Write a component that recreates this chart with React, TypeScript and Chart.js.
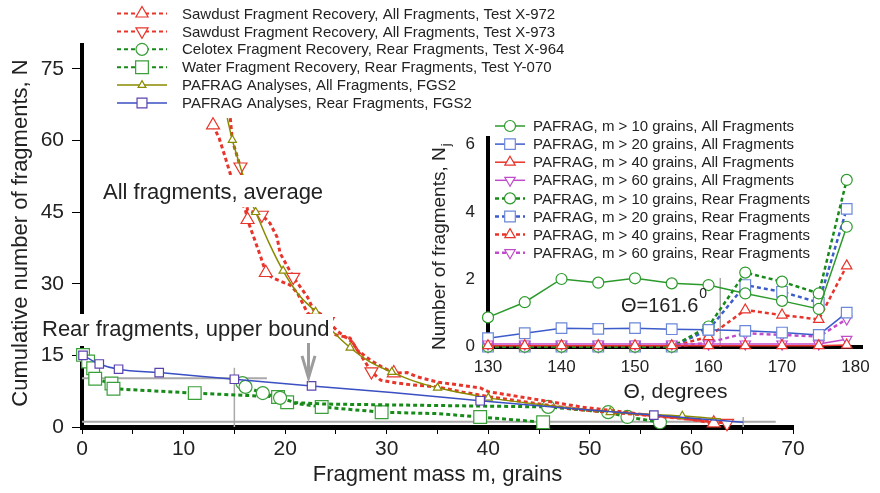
import React, { useEffect, useRef } from 'react';
import { Chart, registerables } from 'chart.js';
Chart.register(...registerables);

// ---------------- Main chart data: fragment mass m (grains) vs cumulative N ----------------
// each point: [mass, cumulativeN, hasMarker]
const sawdustX972: number[][] = [
  [12.9, 63.2, 1], [13.5, 60.5, 0], [14.1, 56.5, 0], [14.6, 53.0, 0], [16.1, 45.3, 0], [16.3, 43.4, 1],
  [17.1, 38.6, 0], [17.6, 35.6, 0], [18.1, 32.3, 1], [18.8, 31.2, 0], [20.5, 29.7, 0], [21.2, 28.1, 0],
  [22.2, 23.9, 0], [24.0, 21.0, 0], [25.0, 19.3, 0], [26.4, 18.6, 0], [27.1, 16.1, 0], [28.4, 14.0, 0],
  [29.5, 12.6, 0], [30.7, 11.3, 1], [32.0, 11.4, 0], [33.0, 10.5, 0], [35.0, 9.4, 0], [39.2, 8.2, 0],
  [40.0, 7.4, 0], [43.2, 6.3, 0], [45.8, 5.4, 0], [49.1, 4.2, 0], [52.3, 3.4, 0], [55.7, 2.5, 0],
  [59.0, 1.9, 0], [62.2, 0.8, 1],
];
const sawdustX973: number[][] = [
  [14.6, 64.7, 0], [14.8, 60.0, 0], [15.3, 56.5, 0], [15.6, 54.5, 1], [16.0, 49.5, 0], [16.3, 45.4, 0],
  [17.7, 44.4, 1], [18.5, 42.7, 0], [19.2, 39.8, 0], [19.5, 36.4, 0], [20.8, 31.4, 1], [21.5, 29.3, 0],
  [22.2, 27.2, 0], [22.8, 24.5, 0], [23.7, 23.4, 0], [24.2, 22.1, 1], [25.2, 20.0, 0], [26.6, 17.8, 0],
  [27.6, 14.5, 0], [28.5, 11.6, 1], [29.4, 9.8, 0], [31.0, 9.2, 0], [32.6, 8.8, 0], [35.0, 8.4, 0],
  [37.5, 7.3, 0], [40.2, 6.3, 0], [45.8, 4.6, 0], [49.1, 3.6, 0], [52.5, 3.0, 0], [56.0, 2.4, 0],
  [60.0, 1.6, 0], [63.5, 0.8, 1],
];
const celotexX964: number[][] = [
  [15.8, 9.2, 1], [16.1, 8.4, 1], [17.8, 7.1, 1], [19.5, 6.1, 1], [21.0, 5.1, 0], [24.0, 4.8, 0],
  [35.0, 4.5, 0], [45.9, 4.2, 1], [51.8, 3.1, 1], [53.7, 2.1, 1], [56.9, 1.0, 1],
];
const waterY070: number[][] = [
  [0.1, 15.1, 1], [0.6, 13.7, 1], [1.1, 12.3, 1], [1.3, 10.1, 1], [2.9, 9.1, 1], [3.1, 8.0, 1],
  [11.1, 7.1, 1], [19.3, 6.3, 1], [20.2, 5.2, 1], [23.6, 4.2, 1], [29.5, 3.1, 1], [35.0, 2.8, 0],
  [39.2, 2.1, 1], [45.4, 1.0, 1],
];
const pafragAll: number[][] = [
  [14.3, 64.7, 0], [14.8, 60.1, 1], [15.3, 56.5, 0], [15.8, 53.0, 0], [16.4, 48.5, 0], [17.1, 45.0, 1],
  [18.4, 38.6, 0], [19.8, 32.7, 1], [21.3, 27.8, 0], [23.0, 24.1, 1], [24.6, 20.2, 0], [26.4, 16.6, 1],
  [28.3, 13.7, 0], [30.5, 11.5, 1], [32.7, 9.6, 0], [35.0, 8.2, 1], [37.5, 7.1, 0], [40.0, 6.1, 1],
  [46.0, 4.5, 0], [52.0, 3.1, 1], [59.1, 2.3, 1], [62.9, 1.7, 0],
];
const pafragRear: number[][] = [
  [0.1, 15.0, 1], [1.7, 13.2, 1], [3.6, 12.1, 1], [7.6, 11.4, 1], [15.0, 10.0, 1], [22.6, 8.6, 1],
  [30.5, 7.2, 0], [39.2, 5.5, 1], [47.5, 4.0, 0], [56.3, 2.5, 1], [65.1, 1.0, 0],
];
const mainXTicks = [0, 5, 10, 15, 20, 25, 30, 35, 40, 45, 50, 55, 60, 65, 70];
const mainYTicks = [0, 15, 30, 45, 60, 75];
// grey guide lines [x1, y1, x2, y2]
const guideLines: number[][] = [
  [0, 10.2, 18.2, 10.2], [15, 0, 15, 12.4], [0, 1.1, 68.3, 1.1], [65.1, 0, 65.1, 2.1],
];
const upperBoundArrow = [22.3, 17.6, 10.3]; // x, yFrom, yTo

// ---------------- Inset data: scattering angle vs N_j ----------------
const thetas = [130, 135, 140, 145, 150, 155, 160, 165, 170, 175, 178.8];
const allM10 = [0.87, 1.32, 2.01, 1.9, 2.03, 1.88, 1.83, 1.58, 1.36, 1.12, 3.56];
const allM20 = [0.25, 0.4, 0.55, 0.53, 0.55, 0.52, 0.5, 0.47, 0.42, 0.35, 1.01];
const allM40 = [0.03, 0.03, 0.03, 0.03, 0.03, 0.03, 0.03, 0.03, 0.03, 0.03, 0.05];
const allM60 = [0.08, 0.08, 0.08, 0.08, 0.08, 0.08, 0.08, 0.08, 0.08, 0.08, 0.22];
const rearM10 = [0, 0, 0, 0, 0, 0, 0.6, 2.2, 1.93, 1.58, 4.95];
const rearM20 = [0, 0, 0, 0, 0, 0, 0.5, 1.83, 1.63, 1.31, 4.09];
const rearM40 = [0, 0, 0, 0, 0, 0, 0.3, 1.09, 0.94, 0.81, 2.4];
const rearM60 = [0, 0, 0, 0, 0, 0, 0.12, 0.4, 0.35, 0.3, 0.82];
const insetXTicks = [130, 140, 150, 160, 170, 180];
const insetYTicks = [0, 2, 4, 6];
const thetaCritical = [161.6, 0, 2.04];

// ---------------- styles ----------------
const FONT = '"Liberation Sans", Arial, Helvetica, sans-serif';
const TXT = '#222222';
const RED = '#e8352b';
const GREEN = '#178a1a';
const GREEN_M = '#3a9f3a';
const OLIVE = '#8a8a00';
const BLUE = '#3a4fc2';
const PURPLE = '#5b42ae';
const IG = '#2b9a2b';
const IB = '#3d5ccc';
const IBM = '#6b88d9';
const IR = '#e8332a';
const IM = '#c04ccb';

function pts(a: number[][]) { return a.map(p => ({ x: p[0], y: p[1] })); }
function radii(a: number[][], r: number) { return a.map(p => (p[2] ? r : 0)); }
function xy(ys: number[]) { return ys.map((v, i) => ({ x: thetas[i], y: v })); }

function drawMarker(ctx: CanvasRenderingContext2D, style: string, x: number, y: number, r: number, rot: number, stroke: string, lw = 1.2) {
  ctx.save();
  ctx.beginPath();
  if (style === 'circle') ctx.arc(x, y, r, 0, Math.PI * 2);
  else if (style === 'rect') { const s = r * Math.SQRT1_2; ctx.rect(x - s, y - s, 2 * s, 2 * s); }
  else {
    let a = (rot * Math.PI) / 180;
    ctx.moveTo(x + Math.sin(a) * r, y - Math.cos(a) * r);
    a += (2 * Math.PI) / 3;
    ctx.lineTo(x + Math.sin(a) * r, y - Math.cos(a) * r);
    a += (2 * Math.PI) / 3;
    ctx.lineTo(x + Math.sin(a) * r, y - Math.cos(a) * r);
    ctx.closePath();
  }
  ctx.fillStyle = '#ffffff';
  ctx.fill();
  ctx.setLineDash([]);
  ctx.lineWidth = lw;
  ctx.strokeStyle = stroke;
  ctx.stroke();
  ctx.restore();
}

type LegendItem = { label: string; color: string; mcolor: string; dash: number[]; width: number; style: string; r: number; rot: number };

function drawLegend(ctx: CanvasRenderingContext2D, items: LegendItem[], x0: number, x1: number, textX: number, y0: number, dy: number, size: number) {
  items.forEach((it, i) => {
    const y = y0 + i * dy;
    ctx.save();
    ctx.beginPath();
    ctx.setLineDash(it.dash);
    ctx.lineWidth = it.width;
    ctx.strokeStyle = it.color;
    ctx.moveTo(x0, y);
    ctx.lineTo(x1, y);
    ctx.stroke();
    ctx.restore();
    drawMarker(ctx, it.style, (x0 + x1) / 2, y, it.r, it.rot, it.mcolor);
    ctx.save();
    ctx.font = `${size}px ${FONT}`;
    ctx.fillStyle = TXT;
    ctx.textAlign = 'left';
    ctx.textBaseline = 'middle';
    ctx.fillText(it.label, textX, y + 1);
    ctx.restore();
  });
}

const mainLegend: LegendItem[] = [
  { label: 'Sawdust Fragment Recovery, All Fragments, Test X-972', color: RED, mcolor: RED, dash: [4, 3], width: 2, style: 'triangle', r: 7, rot: 0 },
  { label: 'Sawdust Fragment Recovery, All Fragments, Test X-973', color: RED, mcolor: RED, dash: [4, 3], width: 2, style: 'triangle', r: 7, rot: 180 },
  { label: 'Celotex Fragment Recovery, Rear Fragments, Test X-964', color: GREEN, mcolor: GREEN_M, dash: [4, 3], width: 2, style: 'circle', r: 6, rot: 0 },
  { label: 'Water Fragment Recovery, Rear Fragments, Test Y-070', color: GREEN, mcolor: GREEN_M, dash: [4, 3], width: 2, style: 'rect', r: 9, rot: 0 },
  { label: 'PAFRAG Analyses, All Fragments, FGS2', color: OLIVE, mcolor: OLIVE, dash: [], width: 1.5, style: 'triangle', r: 4.5, rot: 0 },
  { label: 'PAFRAG Analyses, Rear Fragments, FGS2', color: BLUE, mcolor: PURPLE, dash: [], width: 1.5, style: 'rect', r: 7, rot: 0 },
];

const insetLegend: LegendItem[] = [
  { label: 'PAFRAG, m > 10 grains, All Fragments', color: IG, mcolor: IG, dash: [], width: 1.5, style: 'circle', r: 5.5, rot: 0 },
  { label: 'PAFRAG, m > 20 grains, All Fragments', color: IB, mcolor: IBM, dash: [], width: 1.5, style: 'rect', r: 7.5, rot: 0 },
  { label: 'PAFRAG, m > 40 grains, All Fragments', color: IR, mcolor: IR, dash: [], width: 1.5, style: 'triangle', r: 6, rot: 0 },
  { label: 'PAFRAG, m > 60 grains, All Fragments', color: IM, mcolor: IM, dash: [], width: 1.5, style: 'triangle', r: 6, rot: 180 },
  { label: 'PAFRAG, m > 10 grains, Rear Fragments', color: GREEN, mcolor: IG, dash: [4, 3], width: 2.5, style: 'circle', r: 5.5, rot: 0 },
  { label: 'PAFRAG, m > 20 grains, Rear Fragments', color: IB, mcolor: IBM, dash: [4, 3], width: 2.5, style: 'rect', r: 7.5, rot: 0 },
  { label: 'PAFRAG, m > 40 grains, Rear Fragments', color: IR, mcolor: IR, dash: [4, 3], width: 2.5, style: 'triangle', r: 6, rot: 0 },
  { label: 'PAFRAG, m > 60 grains, Rear Fragments', color: IM, mcolor: IM, dash: [4, 3], width: 2.5, style: 'triangle', r: 6, rot: 180 },
];

function textBox(ctx: CanvasRenderingContext2D, s: string, x: number, baseline: number, size: number, box: number[]) {
  ctx.save();
  ctx.fillStyle = '#ffffff';
  ctx.fillRect(box[0], box[1], box[2], box[3]);
  ctx.font = `${size}px ${FONT}`;
  ctx.fillStyle = TXT;
  ctx.textAlign = 'left';
  ctx.textBaseline = 'alphabetic';
  ctx.fillText(s, x, baseline);
  ctx.restore();
}

const mainDecor = {
  id: 'mainDecor',
  beforeDatasetsDraw(chart: any) {
    const { ctx, scales } = chart;
    const X = scales.x, Y = scales.y;
    ctx.save();
    ctx.strokeStyle = '#a9a9a9';
    guideLines.forEach((g, i) => {
      ctx.lineWidth = i === 1 || i === 3 ? 1.5 : 2;
      ctx.beginPath();
      ctx.moveTo(X.getPixelForValue(g[0]), Y.getPixelForValue(g[1]));
      ctx.lineTo(X.getPixelForValue(g[2]), Y.getPixelForValue(g[3]));
      ctx.stroke();
    });
    ctx.restore();
  },
  afterDatasetsDraw(chart: any) {
    const { ctx, scales } = chart;
    const X = scales.x, Y = scales.y;
    textBox(ctx, 'All fragments, average', 103, 199, 22, [100, 175, 226, 32]);
    textBox(ctx, 'Rear fragments, upper bound', 42, 336, 22, [38, 314, 295, 32]);
    // arrow
    const ax = X.getPixelForValue(upperBoundArrow[0]);
    const ay1 = Y.getPixelForValue(upperBoundArrow[1]);
    const ay2 = Y.getPixelForValue(upperBoundArrow[2]);
    ctx.save();
    ctx.strokeStyle = '#9c9c9c';
    ctx.lineWidth = 3;
    ctx.beginPath();
    ctx.moveTo(ax, ay1);
    ctx.lineTo(ax, ay2 - 1);
    ctx.moveTo(ax - 6.5, ay2 - 22);
    ctx.lineTo(ax, ay2);
    ctx.lineTo(ax + 6.5, ay2 - 22);
    ctx.stroke();
    ctx.restore();
  },
  afterDraw(chart: any) {
    const { ctx, chartArea } = chart;
    ctx.save();
    ctx.font = `22px ${FONT}`;
    ctx.fillStyle = TXT;
    ctx.textAlign = 'center';
    ctx.textBaseline = 'alphabetic';
    ctx.fillText('Fragment mass m, grains', (chartArea.left + chartArea.right) / 2, 481);
    ctx.translate(27, (chartArea.top + chartArea.bottom) / 2 - 3);
    ctx.rotate(-Math.PI / 2);
    ctx.fillText('Cumulative number of fragments, N', 0, 0);
    ctx.restore();
    drawLegend(ctx, mainLegend, 117, 167, 182, 13.5, 17.9, 15);
  },
};

const insetDecor = {
  id: 'insetDecor',
  beforeDatasetsDraw(chart: any) {
    const { ctx, scales } = chart;
    const X = scales.x, Y = scales.y;
    ctx.save();
    ctx.strokeStyle = '#a9a9a9';
    ctx.lineWidth = 1.5;
    ctx.beginPath();
    ctx.moveTo(X.getPixelForValue(thetaCritical[0]), Y.getPixelForValue(thetaCritical[1]));
    ctx.lineTo(X.getPixelForValue(thetaCritical[0]), Y.getPixelForValue(thetaCritical[2]));
    ctx.stroke();
    ctx.restore();
  },
  afterDraw(chart: any) {
    const { ctx, chartArea } = chart;
    ctx.save();
    ctx.fillStyle = TXT;
    ctx.textBaseline = 'alphabetic';
    // Theta label
    ctx.font = `20px ${FONT}`;
    ctx.textAlign = 'left';
    const lab = '\u0398=161.6';
    ctx.fillText(lab, 621, 312);
    const w = ctx.measureText(lab).width;
    ctx.font = `14px ${FONT}`;
    ctx.fillText('0', 621 + w + 1, 298);
    // x title
    ctx.font = `21px ${FONT}`;
    ctx.textAlign = 'center';
    ctx.fillText('\u0398, degrees', (chartArea.left + chartArea.right) / 2, 398);
    // y title with subscript
    ctx.translate(445, 350);
    ctx.rotate(-Math.PI / 2);
    ctx.font = `19px ${FONT}`;
    ctx.textAlign = 'left';
    const t = 'Number of fragments, N';
    ctx.fillText(t, 0, 0);
    const tw = ctx.measureText(t).width;
    ctx.font = `13px ${FONT}`;
    ctx.fillText('j', tw + 1, 5);
    ctx.restore();
    drawLegend(ctx, insetLegend, 495, 525, 533, 126, 18.1, 15);
  },
};

function mainDataset(a: number[][], color: string, mcolor: string, style: string, r: number, rot: number, dashed: boolean, smooth: boolean) {
  return {
    data: pts(a),
    borderColor: color,
    borderWidth: dashed ? 3 : 1.5,
    borderDash: dashed ? [4, 3] : [],
    pointStyle: style,
    pointRadius: radii(a, r),
    pointRotation: rot,
    pointBorderColor: mcolor,
    pointBackgroundColor: '#ffffff',
    pointBorderWidth: 1.2,
    cubicInterpolationMode: smooth ? 'monotone' : 'default',
    tension: 0,
    fill: false,
    clip: false as any,
  };
}

function insetDataset(ys: number[], color: string, mcolor: string, style: string, r: number, rot: number, dashed: boolean) {
  return {
    data: xy(ys),
    borderColor: color,
    borderWidth: dashed ? 2.5 : 1.5,
    borderDash: dashed ? [4, 3] : [],
    pointStyle: style,
    pointRadius: r,
    pointRotation: rot,
    pointBorderColor: mcolor,
    pointBackgroundColor: '#ffffff',
    pointBorderWidth: 1.2,
    tension: 0,
    fill: false,
    clip: false as any,
  };
}

export default function App() {
  const mainRef = useRef<HTMLCanvasElement>(null);
  const insetRef = useRef<HTMLCanvasElement>(null);

  useEffect(() => {
    const tickFont = { family: FONT, size: 21 };
    const main = new Chart(mainRef.current as HTMLCanvasElement, {
      type: 'line',
      data: {
        datasets: [
          mainDataset(pafragRear, BLUE, PURPLE, 'rect', 6, 0, false, true),
          mainDataset(pafragAll, OLIVE, OLIVE, 'triangle', 4.7, 0, false, true),
          mainDataset(sawdustX972, RED, RED, 'triangle', 7.5, 0, true, false),
          mainDataset(sawdustX973, RED, RED, 'triangle', 7.5, 180, true, false),
          mainDataset(celotexX964, GREEN, GREEN_M, 'circle', 6.5, 0, true, false),
          mainDataset(waterY070, GREEN, GREEN_M, 'rect', 9, 0, true, false),
        ] as any,
      },
      options: {
        responsive: false,
        animation: false,
        events: [],
        layout: { padding: { left: 0, top: 45, right: 87, bottom: 0 }, autoPadding: false } as any,
        plugins: { legend: { display: false }, tooltip: { enabled: false } },
        scales: {
          x: {
            type: 'linear', min: 0, max: 70,
            afterFit: (s: any) => { s.height = 66; },
            afterBuildTicks: (s: any) => { s.ticks = mainXTicks.map(v => ({ value: v })); },
            ticks: { font: tickFont, color: TXT, padding: 3, autoSkip: false, maxRotation: 0, callback: (v: any) => (Number(v) % 10 === 0 ? String(v) : '') },
            grid: { display: true, drawOnChartArea: false, drawTicks: true, tickLength: 7, color: '#000', lineWidth: 1 },
            border: { display: true, color: '#000', width: 5 },
          },
          y: {
            type: 'linear', min: 0, max: 80,
            afterFit: (s: any) => { s.width = 82; },
            afterBuildTicks: (s: any) => { s.ticks = mainYTicks.map(v => ({ value: v })); },
            ticks: { font: tickFont, color: TXT, padding: 8, autoSkip: false },
            grid: { display: true, drawOnChartArea: false, drawTicks: true, tickLength: 10, color: '#000', lineWidth: 1 },
            border: { display: true, color: '#000', width: 4 },
          },
        } as any,
      },
      plugins: [mainDecor],
    } as any);

    const inset = new Chart(insetRef.current as HTMLCanvasElement, {
      type: 'line',
      data: {
        datasets: [
          insetDataset(allM40, IR, IR, 'triangle', 6, 0, false),
          insetDataset(allM60, IM, IM, 'triangle', 6, 180, false),
          insetDataset(allM10, IG, IG, 'circle', 5.5, 0, false),
          insetDataset(allM20, IB, IBM, 'rect', 7.5, 0, false),
          insetDataset(rearM10, GREEN, IG, 'circle', 5.5, 0, true),
          insetDataset(rearM20, IB, IBM, 'rect', 7.5, 0, true),
          insetDataset(rearM40, IR, IR, 'triangle', 6, 0, true),
          insetDataset(rearM60, IM, IM, 'triangle', 6, 180, true),
        ] as any,
      },
      options: {
        responsive: false,
        animation: false,
        events: [],
        layout: { padding: { left: 428, top: 137.8, right: 14.6, bottom: 96.3 }, autoPadding: false } as any,
        plugins: { legend: { display: false }, tooltip: { enabled: false } },
        scales: {
          x: {
            type: 'linear', min: 130, max: 181,
            afterFit: (s: any) => { s.height = 50; },
            afterBuildTicks: (s: any) => { s.ticks = insetXTicks.map(v => ({ value: v })); },
            ticks: { font: { family: FONT, size: 17 }, color: TXT, padding: 10, autoSkip: false, maxRotation: 0 },
            grid: { display: true, drawOnChartArea: false, drawTicks: false },
            border: { display: true, color: '#000', width: 4 },
          },
          y: {
            type: 'linear', min: 0, max: 6.2,
            afterFit: (s: any) => { s.width = 60; },
            afterBuildTicks: (s: any) => { s.ticks = insetYTicks.map(v => ({ value: v })); },
            ticks: { font: { family: FONT, size: 17 }, color: TXT, padding: 13, autoSkip: false },
            grid: { display: true, drawOnChartArea: false, drawTicks: false },
            border: { display: true, color: '#000', width: 4 },
          },
        } as any,
      },
      plugins: [insetDecor],
    } as any);

    return () => {
      main.destroy();
      inset.destroy();
    };
  }, []);

  return (
    <div style={{ position: 'absolute', left: 0, top: 0, width: 880, height: 493, background: '#ffffff', overflow: 'hidden' }}>
      <canvas ref={mainRef} width={880} height={493} style={{ position: 'absolute', left: 0, top: 0 }} />
      <canvas ref={insetRef} width={880} height={493} style={{ position: 'absolute', left: 0, top: 0 }} />
    </div>
  );
}
